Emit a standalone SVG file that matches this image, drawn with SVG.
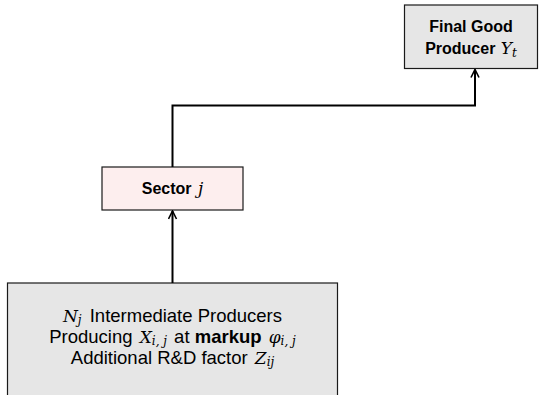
<svg xmlns="http://www.w3.org/2000/svg" width="543" height="395" viewBox="0 0 543 395">
  <style>
    .box { stroke: #1a1a1a; stroke-width: 1.2; }
    .grey { fill: #e6e6e6; }
    .pink { fill: #fdeeee; }
    .lbl { font-family: "Liberation Sans", "DejaVu Sans", sans-serif; font-size: 18.5px; fill: #000; text-anchor: middle; }
    .b { font-weight: bold; font-size: 16px; }
    .bb { font-weight: bold; }
    .m { font-family: "DejaVu Serif", "Liberation Serif", serif; font-style: italic; font-weight: normal; font-size: 17px; }
    .sub { font-size: 12px; }
    .wire { fill: none; stroke: #000; stroke-width: 2; }
  </style>
  <defs>
    <marker id="arr" viewBox="0 0 10 10" refX="9" refY="5" markerWidth="10" markerHeight="10" markerUnits="userSpaceOnUse" orient="auto">
      <path d="M1,1 L9,5 L1,9" fill="none" stroke="#000" stroke-width="1.6"/>
    </marker>
  </defs>

  <g id="final-good">
    <rect class="box grey" x="404.5" y="5" width="133" height="63.5"/>
    <text class="lbl b" x="471" y="32">Final Good</text>
    <text class="lbl b" x="471" y="54">Producer <tspan class="m" dx="1">Y</tspan><tspan class="m sub" dy="3">t</tspan></text>
  </g>

  <g id="sector">
    <rect class="box pink" x="102" y="167" width="141" height="43"/>
    <text class="lbl" x="172.5" y="194"><tspan class="b">Sector </tspan><tspan class="m" dx="2">j</tspan></text>
  </g>

  <g id="intermediate">
    <rect class="box grey" x="7.5" y="283" width="330" height="130"/>
    <text class="lbl" x="172.5" y="322"><tspan class="m">N</tspan><tspan class="m sub" dy="2">j</tspan><tspan dy="-2" dx="3"> Intermediate Producers</tspan></text>
    <text class="lbl" x="172.5" y="343">Producing <tspan class="m" dx="2">X</tspan><tspan class="m sub" dy="2">i, j</tspan><tspan dy="-2" dx="2"> at </tspan><tspan class="bb">markup</tspan> <tspan class="m" dx="2">φ</tspan><tspan class="m sub" dy="2">i, j</tspan></text>
    <text class="lbl" x="172.5" y="364">Additional R&amp;D factor <tspan class="m" dx="2">Z</tspan><tspan class="m sub" dy="2">ij</tspan></text>
  </g>

  <g id="connectors">
    <path class="wire" d="M172.5,283 V211" marker-end="url(#arr)"/>
    <path class="wire" d="M172.5,167 V105.5 H475 V69.5" marker-end="url(#arr)"/>
  </g>
</svg>
